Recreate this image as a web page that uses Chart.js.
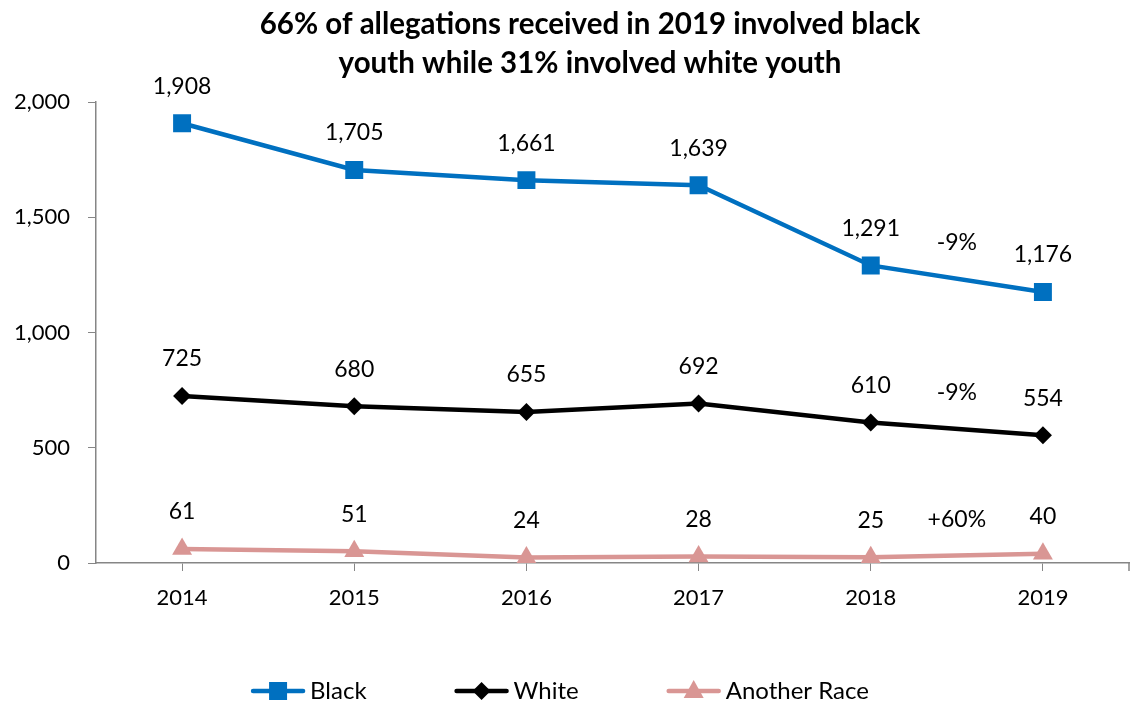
<!DOCTYPE html>
<html>
<head>
<meta charset="utf-8">
<script src="https://cdn.jsdelivr.net/npm/chart.js@4.4.1/dist/chart.umd.min.js"></script>
<style>
  html, body { margin: 0; background: #fff; overflow: hidden; }
  #wrap { width: 1134px; height: 704px; }
  canvas { display: block; }
</style>
</head>
<body>
<div id="wrap"><canvas id="chart" width="1134" height="704"></canvas></div>
<script>
const years = ['2014', '2015', '2016', '2017', '2018', '2019'];
const black = [1908, 1705, 1661, 1639, 1291, 1176];
const white = [725, 680, 655, 692, 610, 554];
const anotherRace = [61, 51, 24, 28, 25, 40];
// change from 2018 to 2019, one per series
const changes = ['-9%', '-9%', '+60%'];
const titleLines = ['66% of allegations received in 2019 involved black', 'youth while 31% involved white youth'];

const FONT = 'Lato, "Liberation Sans", sans-serif';
const AXIS = '#868686';

function drawMarker(ctx, style, x, y, color) {
  ctx.fillStyle = color;
  ctx.beginPath();
  if (style === 'rect') {
    ctx.rect(x - 9, y - 9, 18, 18);
  } else if (style === 'rectRot') {
    ctx.moveTo(x, y - 9); ctx.lineTo(x + 9, y); ctx.lineTo(x, y + 9); ctx.lineTo(x - 9, y);
  } else {
    ctx.moveTo(x, y - 11); ctx.lineTo(x + 10, y + 7); ctx.lineTo(x - 10, y + 7);
  }
  ctx.closePath();
  ctx.fill();
}

// value labels, title and legend
const decorations = {
  id: 'decorations',
  afterDatasetsDraw(chart) {
    const ctx = chart.ctx;
    const area = chart.chartArea;
    ctx.save();

    // closing tick at the end of the x axis
    ctx.strokeStyle = AXIS;
    ctx.lineWidth = 1.5;
    ctx.beginPath();
    ctx.moveTo(area.right, area.bottom);
    ctx.lineTo(area.right, area.bottom + 8);
    ctx.stroke();

    ctx.font = '23px ' + FONT;
    ctx.fillStyle = '#000';
    ctx.textAlign = 'center';
    ctx.textBaseline = 'middle';
    chart.data.datasets.forEach((ds, i) => {
      const pts = chart.getDatasetMeta(i).data;
      pts.forEach((p, j) => ctx.fillText(ds.data[j].toLocaleString('en-US'), p.x, p.y - 37));
      const a = pts[pts.length - 2], b = pts[pts.length - 1];
      ctx.fillText(changes[i], (a.x + b.x) / 2, (a.y + b.y) / 2 - 36);
    });

    // title
    ctx.font = 'bold 29.5px ' + FONT;
    titleLines.forEach((t, k) => ctx.fillText(t, 590, 24 + k * 39));

    // legend
    ctx.font = '24px ' + FONT;
    ctx.textAlign = 'left';
    const lineW = 54, gapText = 5, gapItem = 88;
    const items = chart.data.datasets.map(ds => ({
      ds, w: lineW + gapText + ctx.measureText(ds.label).width
    }));
    const total = items.reduce((s, it) => s + it.w, 0) + gapItem * (items.length - 1);
    let x = 560 - total / 2;
    const y = 691;
    items.forEach(it => {
      ctx.strokeStyle = it.ds.borderColor;
      ctx.lineWidth = 4.5;
      ctx.lineCap = 'round';
      ctx.beginPath();
      ctx.moveTo(x + 2, y); ctx.lineTo(x + lineW - 2, y);
      ctx.stroke();
      drawMarker(ctx, it.ds.pointStyle, x + lineW / 2, y, it.ds.borderColor);
      ctx.fillStyle = '#000';
      ctx.fillText(it.ds.label, x + lineW + gapText, y);
      x += it.w + gapItem;
    });
    ctx.restore();
  }
};

function series(label, data, color, style, radius) {
  return {
    label, data,
    borderColor: color,
    backgroundColor: color,
    borderWidth: 4.5,
    pointStyle: style,
    pointRadius: radius,
    pointHoverRadius: radius,
    pointBorderWidth: 0,
    tension: 0
  };
}

new Chart(document.getElementById('chart'), {
  type: 'line',
  data: {
    labels: years,
    datasets: [
      series('Black', black, '#0070C0', 'rect', 12.7),
      series('White', white, '#000000', 'rectRot', 9),
      series('Another Race', anotherRace, '#D99694', 'triangle', 11.5)
    ]
  },
  options: {
    responsive: false,
    animation: false,
    layout: { autoPadding: false, padding: { top: 102, right: 5, bottom: 81, left: 0 } },
    plugins: {
      legend: { display: false },
      title: { display: false },
      tooltip: { enabled: false }
    },
    scales: {
      x: {
        offset: true,
        afterFit(scale) {
          scale.height = 60;
          scale.paddingLeft = 0;
          scale.paddingRight = 0;
        },
        border: { color: AXIS, width: 1.5 },
        grid: { display: true, drawOnChartArea: false, offset: false, color: AXIS, tickLength: 8 },
        ticks: { color: '#000', font: { family: FONT, size: 22 }, padding: 14 }
      },
      y: {
        min: 0,
        max: 2000,
        afterFit(scale) { scale.width = 96; },
        border: { color: AXIS, width: 1.5 },
        grid: { drawOnChartArea: false, color: AXIS, tickLength: 8 },
        ticks: {
          stepSize: 500,
          color: '#000',
          font: { family: FONT, size: 22 },
          padding: 18,
          callback: v => v.toLocaleString('en-US')
        }
      }
    }
  },
  plugins: [decorations]
});
</script>
</body>
</html>
